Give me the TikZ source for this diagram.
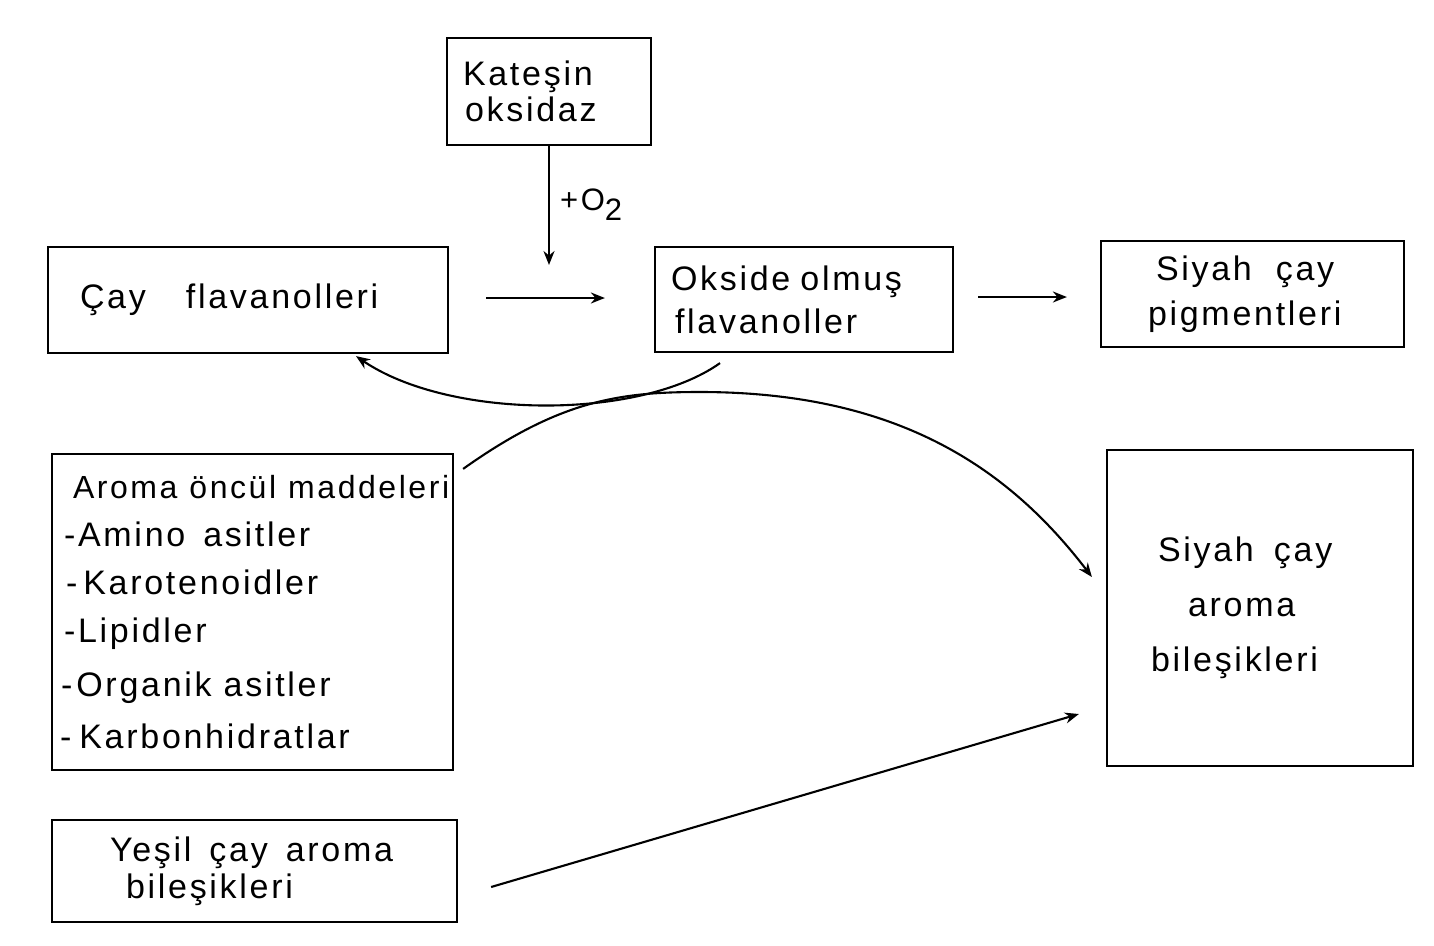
\documentclass[tikz,border=0pt]{standalone}
\usepackage{fontspec}
\setmainfont[LetterSpace=8]{Liberation Sans}
\usetikzlibrary{arrows.meta}
\newcommand{\fs}[1]{\fontsize{34}{#1}\selectfont}
\newcommand{\gap}[1][11pt]{\hspace{#1}}
\begin{document}
\begin{tikzpicture}[x=1pt,y=-1pt,
  box/.style={draw, line width=2.2pt, inner ysep=0pt, align=left, anchor=center},
  arr/.style={line width=2.1pt, -{Stealth[length=14pt,width=11pt]}}]
\useasboundingbox (0,0) rectangle (1434,945);
\fill[white] (0,0) rectangle (1434,945);
% boxes
\node[box, minimum width=204pt, minimum height=107pt, text width=184pt, inner xsep=10pt, font=\fs{36pt}]
  (kat) at (549,91.5) {\hspace*{6pt}Kateşin\\\hspace*{8pt}oksidaz};
\node[box, minimum width=400pt, minimum height=106pt, text width=380pt, inner xsep=10pt, font=\fs{40pt}]
  (cay) at (248,300) {\hspace*{22pt}Çay\gap[40pt]flavanolleri};
\node[box, minimum width=298pt, minimum height=105pt, text width=278pt, inner xsep=10pt, font=\fs{43pt}]
  (oks) at (804,299.5) {\hspace*{6pt}Okside\gap[10pt]olmuş\\\hspace*{10pt}flavanoller};
\node[box, minimum width=303pt, minimum height=106pt, text width=283pt, inner xsep=10pt, font=\fs{45pt}]
  (pig) at (1252.5,294) {\hspace*{45pt}Siyah\gap[24pt]çay\\\hspace*{37pt}pigmentleri};
\node[box, minimum width=401pt, minimum height=316pt, text width=385pt, inner xsep=8pt, font=\fs{48pt}]
  (aro) at (252.5,612) {\hspace*{13pt}\makebox[0pt][l]{\fontsize{32}{48}\selectfont Aroma\hspace{12pt}öncül\hspace{12pt}maddeleri}\\
  \hspace*{4pt}-Amino\gap[18pt]asitler\\
  \hspace*{6pt}-\gap[6pt]Karotenoidler\\
  \hspace*{4pt}-Lipidler\\[6pt]
  \hspace*{1pt}-\gap[4pt]Organik\gap[12pt]asitler\\[4pt]
  -\gap[8pt]Karbonhidratlar};
\node[box, minimum width=306pt, minimum height=316pt, text width=286pt, inner xsep=10pt, font=\fs{55pt}]
  (sca) at (1260,608) {\hspace*{41pt}Siyah\gap[20pt]çay\\\hspace*{71pt}aroma\\\hspace*{34pt}bileşikleri};
\node[box, minimum width=405pt, minimum height=102pt, text width=385pt, inner xsep=10pt, font=\fs{37pt}]
  (yes) at (254.5,871) {\hspace*{48pt}Yeşil\gap[18pt]çay\gap[18pt]aroma\\\hspace*{64pt}bileşikleri};
% label
\node[inner sep=0pt, anchor=west] (o2) at (560,205) {\fontsize{31}{31}\selectfont +O\raisebox{-10pt}{2}};
% connectors
\coordinate (o2end) at (549,265);
\draw[arr] (kat.south) -- (o2end);
\draw[arr] ([shift={(37,-2)}]cay.east) -- ([shift={(-49,-1.5)}]oks.west);
\draw[arr] ([shift={(24,-2.5)}]oks.east) -- ([shift={(-33,3)}]pig.west);
\draw[arr] ([shift={(-84,10)}]oks.south) .. controls (640,420) and (450,420) .. ([shift={(108,2)}]cay.south);
\draw[arr] ([shift={(9,16)}]aro.north east) .. controls (560,400) and (620,392) .. (700,392)
  .. controls (900,392) and (1010,470) .. ([shift={(-14,-31)}]sca.west);
\draw[arr] ([shift={(33,16)}]yes.east) -- ([shift={(-27,106)}]sca.west);
\end{tikzpicture}
\end{document}
